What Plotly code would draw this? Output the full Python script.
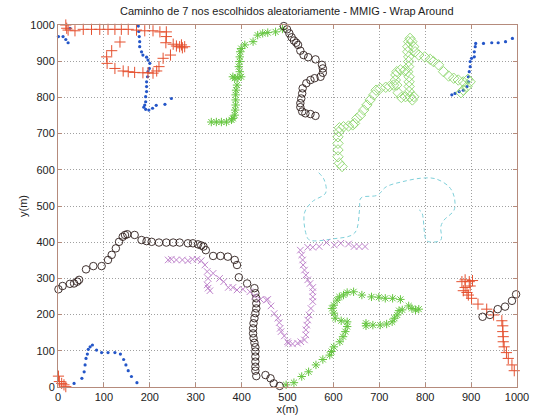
import plotly.graph_objects as go

# ---- node paths (x, y in metres); wrap-around splits each path into pieces ----

# node 1: blue dots
blue_x = [1, 11, 17, 22, 26,
          175, 176, 177, 178, 178, 182, 185, 193, 196, 200, 199, 196, 195, 193, 193, 193,
          191, 191, 189, 187, 191, 198, 206, 214, 233, 247,
          858, 865, 874, 883, 891, 894, 894, 896, 898, 898, 901, 907, 907, 909, 910,
          927, 945, 959, 975, 990,
          35, 52, 57, 59, 61, 64, 66, 70, 75, 84, 95, 109, 124, 136, 143, 148, 153, 160, 172]
blue_y = [968, 968, 960, 951, 991,
          997, 982, 968, 954, 940, 926, 917, 911, 903, 894, 880, 871, 857, 843, 830, 816,
          802, 788, 779, 773, 767, 765, 770, 778, 781, 797,
          807, 811, 816, 820, 830, 843, 857, 871, 885, 899, 908, 912, 926, 940, 949,
          949, 951, 951, 954, 963,
          10, 24, 42, 61, 79, 91, 104, 111, 116, 102, 95, 95, 95, 91, 76, 61, 45, 29, 12]

# node 2: red plus
red_x = [17, 19, 22, 37, 55, 73, 91, 109, 124, 138, 153, 171, 189, 207, 222, 236, 236, 235,
         251, 258, 265, 271, 276, 269,
         245, 229, 220, 215, 207, 196, 185, 167, 153, 142, 124, 107, 106, 117, 135,
         1, 3, 8, 13, 17,
         880, 887, 896, 903, 898, 887, 883, 891, 894, 901, 915, 934, 949, 967, 969, 969,
         970, 970, 972, 977, 981, 989, 994]
red_y = [1000, 991, 986, 984, 988, 988, 988, 988, 988, 988, 988, 986, 984, 984, 981, 981, 968, 951,
         947, 942, 940, 937, 940, 945,
         917, 908, 885, 873, 867, 868, 868, 869, 871, 873, 880, 894, 912, 929, 953,
         30, 15, 10, 6, 1,
         291, 296, 291, 294, 279, 275, 266, 261, 254, 245, 229, 215, 199, 183, 169, 153,
         139, 125, 111, 95, 79, 61, 45]

# node 3: green asterisks
green_x = [334, 345, 356, 367, 378, 381, 385, 386, 387, 387, 387, 388, 390, 385, 381, 392, 399,
           396, 394, 396, 396, 397, 399, 407, 425, 435, 446, 457, 474, 489,
           497, 514, 531, 546, 562, 577, 592, 596, 601, 614, 621, 626, 630, 630, 617, 604,
           601, 597, 601, 608, 613, 622, 630, 644, 662, 683, 699, 713, 729, 746, 764, 771,
           779, 786, 750, 743, 739, 733, 728, 716, 702, 686, 671, 671]
green_y = [732, 732, 732, 732, 738, 742, 751, 765, 779, 793, 807, 820, 834, 853, 857, 854, 857,
           871, 885, 899, 912, 926, 935, 945, 954, 972, 977, 979, 981, 989,
           6, 12, 29, 42, 61, 76, 88, 98, 111, 125, 139, 153, 167, 180, 183, 190,
           204, 217, 226, 240, 249, 254, 261, 263, 254, 249, 248, 245, 245, 242, 224, 217,
           213, 215, 213, 211, 199, 190, 180, 174, 171, 171, 176, 169]

# node 4: black circles
black_x = [492, 499, 504, 509, 514, 519, 523, 528, 535, 545, 561, 575, 577, 577, 572, 559, 550,
           541, 533, 532, 530, 528, 528, 532, 539, 550, 561,
           1, 10, 26, 35, 42, 46, 61, 77, 95, 109, 117, 126, 133, 141, 146, 151, 167, 182,
           193, 204, 220, 236, 251, 265, 283, 294, 305, 312, 317, 322, 338, 354, 370, 385,
           390, 394, 412, 428, 430, 432, 432, 432, 430, 428, 426, 425, 425, 426, 428, 430,
           430, 430, 430, 430, 430, 432, 452, 463, 470, 483,
           925, 941, 958, 974, 989, 998]
black_y = [997, 988, 977, 966, 957, 951, 945, 929, 917, 911, 905, 890, 880, 868, 857, 853, 848,
           839, 825, 811, 797, 784, 773, 761, 756, 754, 749,
           270, 279, 285, 286, 291, 296, 325, 334, 334, 351, 365, 383, 401, 415, 420, 422, 420, 406,
           403, 401, 399, 399, 399, 399, 397, 397, 394, 391, 388, 378, 362, 362, 360, 351,
           337, 303, 286, 273, 259, 245, 231, 217, 204, 190, 176, 162, 148, 135, 122, 110,
           98, 84, 70, 56, 45, 30, 33, 24, 10, 3,
           194, 199, 215, 222, 238, 256]

# node 5: light green diamonds
diam_x = [619, 613, 610, 610, 610, 610, 612, 613, 622, 633, 642, 646, 651, 659, 666, 673, 680,
          688, 693, 702, 714, 722, 731, 735, 736, 738, 746, 755, 762, 765, 765, 765, 765,
          767, 772, 775, 757, 748, 741, 738, 764, 764, 764, 762, 762, 764, 767, 771, 775,
          778, 786, 799, 811, 818, 829, 840, 851, 862, 872, 883, 893, 898, 891, 883, 878]
diam_y = [609, 618, 636, 655, 673, 691, 705, 716, 719, 721, 724, 728, 742, 751, 765, 779, 793,
          807, 820, 825, 828, 830, 834, 848, 862, 871, 876, 874, 871, 857, 843, 830, 816,
          802, 793, 802, 802, 800, 813, 834, 885, 899, 912, 926, 940, 954, 963, 954, 940,
          926, 917, 912, 905, 899, 890, 871, 859, 853, 848, 843, 850, 843, 830, 820, 813]

# node 6: cyan dashed line
cyan_x = [568, 580, 583, 554, 537, 541, 548, 598, 646, 657, 660, 696, 715, 750, 793, 823,
          852, 863, 863, 841, 834, 834, 809, 802, 793, 787]
cyan_y = [592, 572, 536, 512, 481, 420, 406, 409, 425, 489, 522, 530, 553, 567, 577, 575,
          553, 526, 489, 461, 443, 406, 401, 406, 481, 489]

# node 7: magenta crosses
mag_x = [240, 247, 258, 271, 283, 293, 303, 312, 320, 325, 327, 325, 327, 331, 338, 352, 361,
         371, 381, 390, 403, 418, 428, 441, 454, 457, 464, 471, 479, 482, 484, 486, 493,
         500, 502, 511, 522, 529, 537, 540, 540, 542, 544, 547, 551, 555, 555, 555, 555,
         549, 544, 540, 537, 534, 533, 531, 528, 544, 555, 569, 585, 602, 616, 633, 645,
         656, 669]
mag_y = [351, 353, 351, 351, 349, 353, 353, 349, 337, 319, 300, 282, 273, 266, 314, 300, 291,
         275, 275, 268, 270, 263, 251, 242, 240, 242, 224, 203, 190, 178, 162, 153, 141,
         125, 121, 119, 121, 125, 130, 144, 158, 171, 185, 199, 217, 236, 249, 263, 275,
         286, 296, 309, 323, 337, 351, 365, 378, 386, 386, 388, 399, 392, 397, 395, 388,
         388, 388]

ticks = list(range(0, 1001, 100))
tick_text = [str(t) for t in ticks]

FONT = "Liberation Sans, Arial"
TEXT_COLOR = "#222222"

fig = go.Figure()


def markers(x, y, symbol, color, size, width=1.0):
    fig.add_trace(go.Scatter(
        x=x, y=y, mode="markers", cliponaxis=False,
        marker=dict(symbol=symbol, size=size, color=color,
                    line=dict(color=color, width=width)),
        showlegend=False))


markers(blue_x, blue_y, "circle", "#2456c8", 3.2, 0)
markers(red_x, red_y, "cross-thin-open", "#e5502f", 8, 1.0)
markers(green_x, green_y, "asterisk-open", "#66c640", 7, 1.0)
markers(black_x, black_y, "circle-open", "#2e1e1c", 7.5, 0.9)
markers(diam_x, diam_y, "diamond-open", "#8cd66c", 8, 0.9)
fig.add_trace(go.Scatter(
    x=cyan_x, y=cyan_y, mode="lines",
    line=dict(color="#7fd0da", width=1, dash="4px,3px"),
    line_shape="spline", showlegend=False))
markers(mag_x, mag_y, "x-thin-open", "#bf84cc", 6.5, 1.0)

axis_color = "#b58b7c"
axis_common = dict(
    range=[0, 1000], tickmode="array", tickvals=ticks, ticktext=tick_text,
    showgrid=True, gridcolor="#a0a0a0", griddash="1px,2px", gridwidth=1,
    zeroline=False, showline=True, linecolor=axis_color, linewidth=1, mirror="ticks",
    ticks="inside", ticklen=4, tickcolor=axis_color, automargin=False,
    tickfont=dict(family=FONT, size=11, color=TEXT_COLOR),
)

fig.update_layout(
    width=536, height=416,
    margin=dict(l=58, r=19, t=25, b=29, autoexpand=False),
    paper_bgcolor="white", plot_bgcolor="white",
    title=dict(text="Caminho de 7 nos escolhidos aleatoriamente - MMIG - Wrap Around",
               x=0.535, xanchor="center", y=0.972, yanchor="middle",
               font=dict(family=FONT, size=11, color=TEXT_COLOR)),
    xaxis=dict(axis_common, title=dict(text="x(m)", standoff=0,
                                       font=dict(family=FONT, size=11, color=TEXT_COLOR))),
    yaxis=dict(axis_common, title=dict(text="y(m)", standoff=0,
                                       font=dict(family=FONT, size=11, color=TEXT_COLOR))),
)

fig.write_html("out.html")
